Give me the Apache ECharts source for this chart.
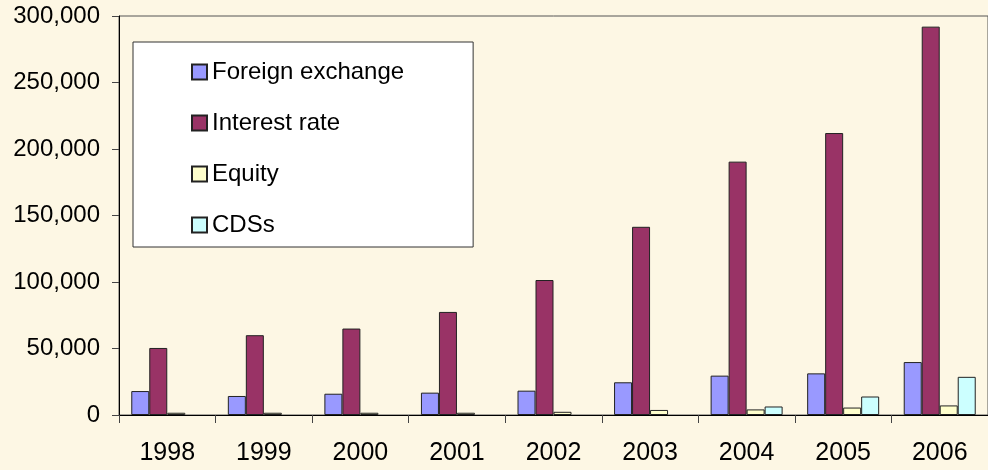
<!DOCTYPE html>
<html>
<head>
<meta charset="utf-8">
<script src="https://cdn.jsdelivr.net/npm/echarts@6/dist/echarts.min.js"></script>
<style>
  html, body { margin: 0; padding: 0; background: #fdf7e4; }
  #chart { width: 988px; height: 470px; }
</style>
</head>
<body>
<div id="chart"></div>
<script>
// notional amounts outstanding, by year
const years = ["1998", "1999", "2000", "2001", "2002", "2003", "2004", "2005", "2006"];
const foreignExchange = [18000, 14300, 16000, 16800, 18300, 24600, 29600, 31300, 39800];
const interestRate = [50400, 60000, 65000, 77500, 101500, 141500, 190500, 212000, 292000];
const equity = [1700, 1700, 1700, 1700, 2400, 3800, 4200, 5600, 7200];
const cds = [null, null, null, null, null, null, 6400, 13900, 28700];
const yTicks = [0, 50000, 100000, 150000, 200000, 250000, 300000];

const font = "Liberation Sans, Arial, sans-serif";

const chart = echarts.init(document.getElementById("chart"));

function bar(name, data, color) {
  return {
    name: name,
    type: "bar",
    data: data,
    barWidth: 18,
    barGap: "0%",
    itemStyle: { color: color, borderColor: "#222", borderWidth: 1 },
    animation: false,
  };
}

chart.setOption({
  backgroundColor: "#fdf7e4",
  textStyle: { fontFamily: font },
  grid: {
    left: 119,
    top: 16,
    width: 876,
    height: 399,
    show: true,
    borderColor: "#555",
    borderWidth: 1,
    backgroundColor: "transparent",
  },
  legend: {
    orient: "vertical",
    left: 133,
    top: 42,
    padding: [18, 69, 10, 58],
    itemGap: 27,
    itemWidth: 15,
    itemHeight: 15,
    itemTextGap: 11,
    backgroundColor: "#ffffff",
    borderColor: "#333",
    borderWidth: 1,
    icon: "rect",
    textStyle: { fontSize: 24, lineHeight: 24, color: "#000", fontFamily: font },
    data: ["Foreign exchange", "Interest rate", "Equity", "CDSs"],
  },
  xAxis: {
    type: "category",
    data: years,
    axisLine: { lineStyle: { color: "#000", width: 1 } },
    axisTick: { show: true, alignWithLabel: false, length: 8, lineStyle: { color: "#444" } },
    axisLabel: { fontSize: 25, color: "#000", margin: 26, fontFamily: font },
  },
  yAxis: {
    type: "value",
    min: 0,
    max: yTicks[yTicks.length - 1],
    interval: yTicks[1] - yTicks[0],
    splitLine: { show: false },
    axisLine: { show: true, lineStyle: { color: "#000", width: 1 } },
    axisTick: { show: true, length: 7, lineStyle: { color: "#444" } },
    axisLabel: {
      fontSize: 24,
      color: "#000",
      margin: 19,
      fontFamily: font,
      formatter: (v) => v.toLocaleString("en-US"),
    },
  },
  series: [
    bar("Foreign exchange", foreignExchange, "#9999ff"),
    bar("Interest rate", interestRate, "#993366"),
    bar("Equity", equity, "#ffffcc"),
    bar("CDSs", cds, "#ccffff"),
  ],
});
</script>
</body>
</html>
